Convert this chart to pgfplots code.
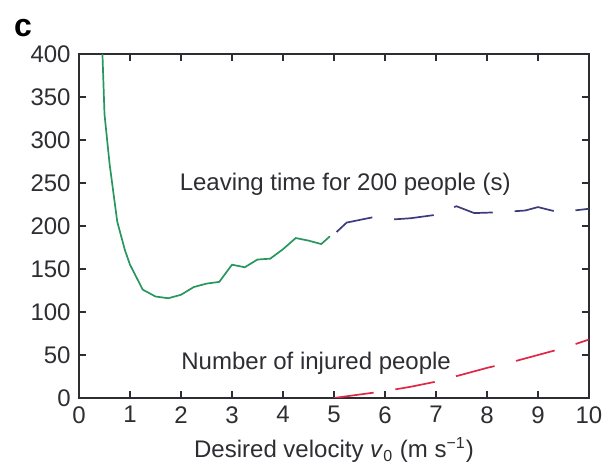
\documentclass[border=0pt]{standalone}
\usepackage{fontspec}
\setmainfont{Liberation Sans}
\usepackage{pgfplots}
\pgfplotsset{compat=1.18}

\definecolor{txt}{RGB}{45,45,50}
\definecolor{leavegreen}{RGB}{40,150,95}
\definecolor{leaveblue}{RGB}{60,60,125}
\definecolor{injred}{RGB}{222,40,70}

\begin{document}
\fontsize{12}{14}\selectfont
\begin{tikzpicture}
  % fix the page to the reference's margins (1 px = 0.5 pt)
  \useasboundingbox (-39.5pt,-35.5pt) rectangle (264pt,199pt);
  \begin{axis}[
      at={(0,0)}, anchor=south west,
      scale only axis,
      width=255pt, height=172pt,
      xmin=0, xmax=10, ymin=0, ymax=400,
      xtick={0,1,...,10},
      ytick={0,50,...,400},
      tick align=inside,
      major tick length=3.5pt,
      axis line style={txt, line width=0.75pt},
      every tick/.style={txt, line width=0.75pt},
      tick label style={font=\fontsize{12}{14}\selectfont, text=txt},
      /pgf/number format/assume math mode=true,
      xlabel={Desired velocity \textit{v}\textsubscript{0} (m s\textsuperscript{−1})},
      xlabel style={font=\fontsize{12}{14}\selectfont, text=txt, yshift=1pt},
      clip=true,
    ]
    % leaving time, low velocities (solid)
    \addplot[leavegreen, line width=0.85pt] coordinates {
      (0.46,400) (0.5,330) (0.6,272) (0.75,205) (0.9,172) (1.0,155)
      (1.25,126) (1.5,118) (1.75,116) (2.0,120) (2.25,129) (2.5,133)
      (2.75,135) (3.0,155) (3.25,152) (3.5,161) (3.75,162) (4.0,173)
      (4.25,186) (4.5,183) (4.75,179) (4.92,188)
    };
    % leaving time, high velocities (dashed)
    \addplot[leaveblue, line width=0.85pt, dash pattern=on 20pt off 11pt] coordinates {
      (5.05,193) (5.25,204) (5.75,210) (6.0,207) (6.5,209) (7.0,213)
      (7.4,223) (7.75,215) (8.25,216) (8.75,218) (9.0,222) (9.4,216)
      (10,220)
    };
    % number of injured people (dashed)
    \addplot[injred, line width=0.85pt, dash pattern=on 20pt off 11pt] coordinates {
      (5.0,0) (5.5,4) (6.0,8) (6.5,13) (7.0,19) (7.5,27) (8.0,35)
      (8.5,42) (9.0,50) (9.5,58) (10,68)
    };
    \node[text=txt] at (axis cs:5.22,248) {Leaving time for 200 people (s)};
    \node[text=txt] at (axis cs:4.65,40) {Number of injured people};
  \end{axis}
  \node[text=black, font=\fontsize{16}{18}\selectfont\bfseries] at (-28pt,185pt) {c};
\end{tikzpicture}
\end{document}
